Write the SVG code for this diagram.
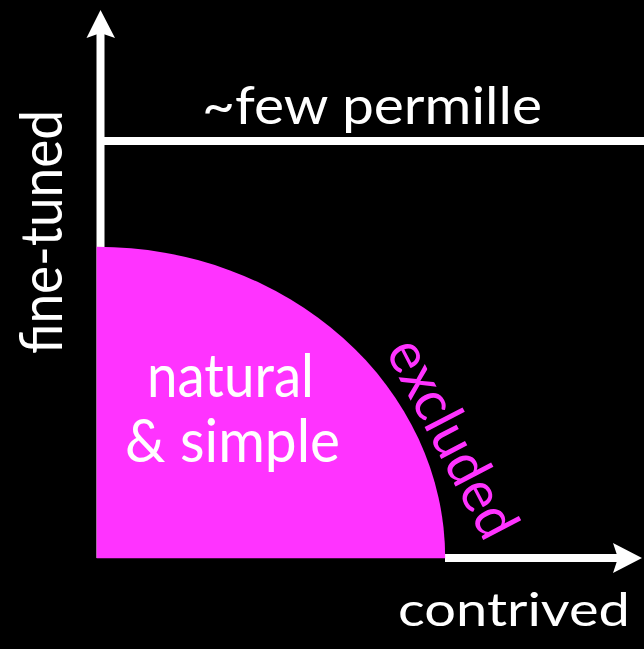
<svg xmlns="http://www.w3.org/2000/svg" width="644" height="649" viewBox="0 0 644 649">
<style>
.axis{stroke:#fff;stroke-width:8;fill:none}
.head{fill:#fff}
.t{font-family:Lato,"Open Sans","Liberation Sans",sans-serif;fill:#fff}
.mag{fill:#ff33ff}
</style>
<rect x="0" y="0" width="644" height="649" fill="#000"/>
<g id="connectors">
<line class="axis" x1="100.5" y1="30" x2="100.5" y2="558" stroke-width="7.5"/>
<polygon class="head" points="100.5,10 115,38 100.5,33 86.5,38"/>
<line class="axis" x1="97" y1="141" x2="644" y2="141" stroke-width="7.5"/>
<line class="axis" x1="445" y1="558" x2="622" y2="558"/>
<polygon class="head" points="642,558 613,543 618,558 613,573"/>
</g>
<g id="region">
<path class="mag" d="M96.7,558.3 L96.7,246.7 A348.5,311.6 0 0 1 445.2,558.3 Z"/>
</g>
<g id="label-permille">
<text class="t" x="202" y="124" font-size="53" textLength="340" lengthAdjust="spacingAndGlyphs">~few permille</text>
</g>
<g id="label-natural">
<text class="t" x="147" y="397" font-size="60" textLength="167" lengthAdjust="spacingAndGlyphs">natural</text>
<text class="t" x="125" y="462" font-size="60" textLength="215" lengthAdjust="spacingAndGlyphs">&amp; simple</text>
</g>
<g id="label-finetuned">
<text class="t" transform="translate(62,354) rotate(-90)" x="0" y="0" font-size="59" textLength="244" lengthAdjust="spacingAndGlyphs">fine-tuned</text>
</g>
<g id="label-contrived">
<text class="t" x="398" y="626" font-size="47" textLength="232" lengthAdjust="spacingAndGlyphs">contrived</text>
</g>
<g id="label-excluded">
<text class="t mag" transform="translate(385,351) rotate(62.5)" x="0" y="0" font-size="58" textLength="217" lengthAdjust="spacingAndGlyphs">excluded</text>
</g>
</svg>
